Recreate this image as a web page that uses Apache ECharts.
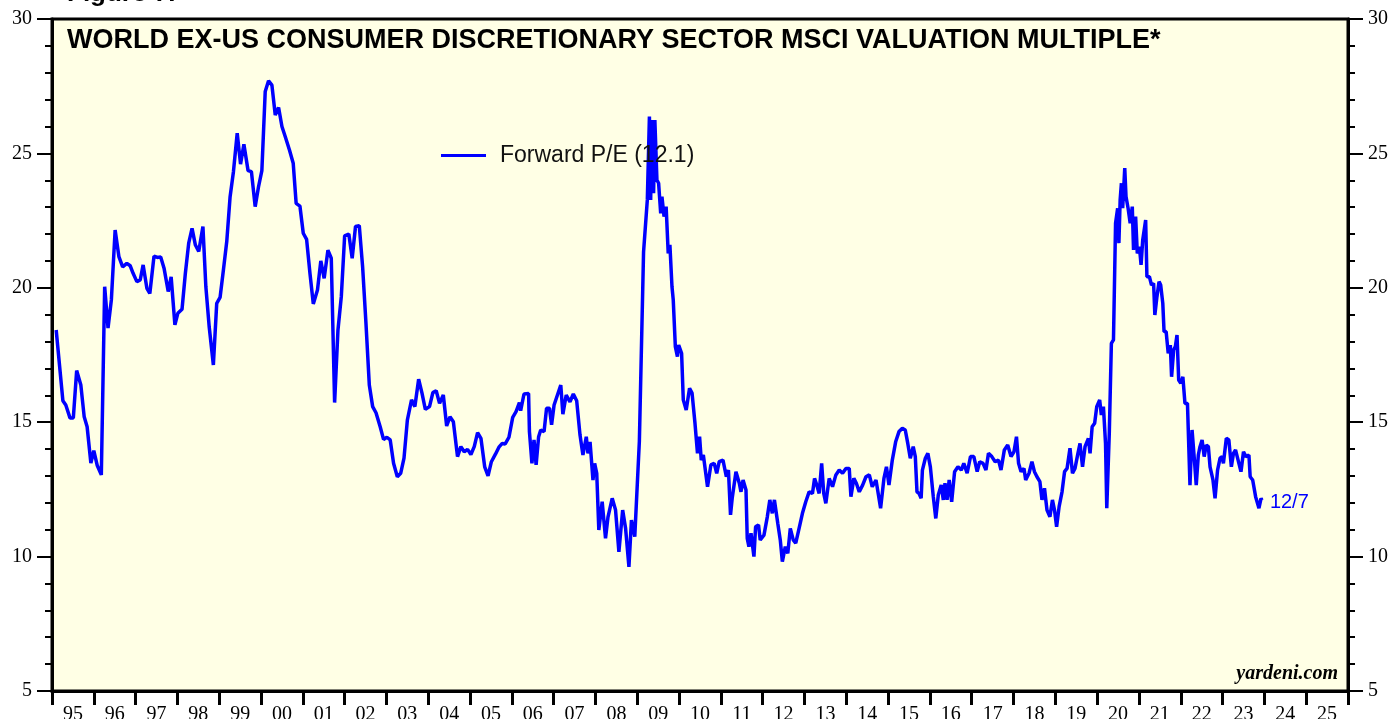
<!DOCTYPE html>
<html>
<head>
<meta charset="utf-8">
<title>World ex-US Consumer Discretionary Forward P/E</title>
<script src="https://cdn.jsdelivr.net/npm/echarts@6/dist/echarts.min.js"></script>
<style>
  html, body { margin: 0; padding: 0; background: #fff; }
  #chart { width: 1395px; height: 719px; }
</style>
</head>
<body>
<div id="chart"></div>
<script>
// decimal years and forward P/E
var dates95 = [1995.10, 1995.26, 1995.33, 1995.43, 1995.51, 1995.59, 1995.69, 1995.77, 1995.84, 1995.93,
  1996.00, 1996.08, 1996.18, 1996.26, 1996.34, 1996.42, 1996.51, 1996.60, 1996.69, 1996.79, 1996.87, 1996.94,
  1997.03, 1997.11, 1997.18, 1997.27, 1997.34, 1997.44, 1997.52, 1997.60, 1997.68, 1997.78, 1997.85, 1997.94,
  1998.01, 1998.11, 1998.19, 1998.27, 1998.35, 1998.43, 1998.51, 1998.61, 1998.68, 1998.76, 1998.86, 1998.94,
  1999.02, 1999.10, 1999.18, 1999.26, 1999.34, 1999.43, 1999.51, 1999.59, 1999.69, 1999.77, 1999.86, 1999.94,
  2000.02, 2000.10, 2000.18, 2000.26, 2000.34, 2000.42, 2000.50, 2000.58, 2000.68, 2000.77, 2000.84, 2000.93,
  2001.01, 2001.09, 2001.17, 2001.25, 2001.35, 2001.43, 2001.51, 2001.60, 2001.68, 2001.76, 2001.84, 2001.92,
  2002.00, 2002.10, 2002.18, 2002.26, 2002.35, 2002.43, 2002.51, 2002.59, 2002.67, 2002.75, 2002.85, 2002.93,
  2003.01, 2003.09, 2003.17, 2003.26, 2003.34, 2003.42, 2003.50, 2003.60, 2003.68, 2003.77, 2003.85, 2003.93,
  2004.03, 2004.11, 2004.19, 2004.27, 2004.36, 2004.44, 2004.52, 2004.60, 2004.70, 2004.78, 2004.86, 2004.94,
  2005.02, 2005.10, 2005.18, 2005.26, 2005.35, 2005.43, 2005.51, 2005.61, 2005.69, 2005.77, 2005.84, 2005.93];
var pe95 = [18.43, 15.80, 15.64, 15.16, 15.16, 16.92, 16.38, 15.20, 14.83, 13.48,
  13.94, 13.40, 13.04, 20.04, 18.50, 19.55, 22.15, 21.16, 20.78, 20.91, 20.82, 20.54,
  20.23, 20.29, 20.85, 19.98, 19.79, 21.18, 21.13, 21.15, 20.73, 19.86, 20.41, 18.62,
  19.05, 19.20, 20.54, 21.66, 22.21, 21.59, 21.35, 22.28, 20.04, 18.55, 17.13, 19.42,
  19.64, 20.66, 21.72, 23.39, 24.32, 25.75, 24.60, 25.34, 24.36, 24.32, 23.02, 23.76,
  24.36, 27.30, 27.70, 27.54, 26.43, 26.71, 26.00, 25.62, 25.13, 24.63, 23.14, 23.04,
  22.03, 21.80, 20.54, 19.40, 19.92, 21.00, 20.35, 21.40, 21.10, 15.73, 18.43, 19.67,
  21.93, 22.00, 21.10, 22.28, 22.31, 20.78, 18.68, 16.38, 15.58, 15.35, 14.83, 14.36,
  14.44, 14.34, 13.47, 12.97, 13.10, 13.66, 15.08, 15.83, 15.58, 16.60, 16.08, 15.48,
  15.58, 16.10, 16.17, 15.70, 16.01, 14.86, 15.20, 15.02, 13.72, 14.09, 13.90, 13.99,
  13.80, 14.09, 14.61, 14.40, 13.34, 13.00, 13.53, 13.82, 14.07, 14.21, 14.19, 14.44];

var dates06 = [2006.02, 2006.10, 2006.18, 2006.21, 2006.29, 2006.40, 2006.42, 2006.48, 2006.53, 2006.58,
  2006.64, 2006.69, 2006.77, 2006.83, 2006.90, 2006.95, 2007.01, 2007.09, 2007.17, 2007.22, 2007.30, 2007.39,
  2007.47, 2007.55, 2007.63, 2007.70, 2007.78, 2007.82, 2007.87, 2007.94, 2007.98, 2008.03, 2008.08, 2008.16,
  2008.24, 2008.30, 2008.40, 2008.48, 2008.56, 2008.65, 2008.72, 2008.80, 2008.86, 2008.94, 2009.05, 2009.15,
  2009.19, 2009.24, 2009.29, 2009.32, 2009.35, 2009.39, 2009.42, 2009.47, 2009.51, 2009.56, 2009.59, 2009.64,
  2009.69, 2009.74, 2009.78, 2009.83, 2009.86, 2009.91, 2009.96, 2009.99, 2010.06, 2010.10, 2010.17, 2010.25,
  2010.31, 2010.38, 2010.44, 2010.49, 2010.53, 2010.58, 2010.68, 2010.76, 2010.84, 2010.90, 2010.96, 2011.05,
  2011.13, 2011.18, 2011.23, 2011.27, 2011.36, 2011.44, 2011.48, 2011.53, 2011.60, 2011.63, 2011.67, 2011.72,
  2011.79, 2011.83, 2011.90, 2011.94, 2012.03, 2012.11, 2012.17, 2012.23, 2012.28, 2012.36, 2012.42, 2012.47,
  2012.54, 2012.60, 2012.66, 2012.73, 2012.79, 2012.87, 2012.95, 2013.03, 2013.11, 2013.19, 2013.24, 2013.28,
  2013.35, 2013.41, 2013.46, 2013.51, 2013.59, 2013.67, 2013.75, 2013.83, 2013.91, 2013.99, 2014.07, 2014.11,
  2014.18, 2014.24, 2014.31, 2014.39, 2014.47, 2014.55, 2014.62, 2014.71, 2014.82, 2014.90, 2014.96];
var pe06 = [15.18, 15.39, 15.73, 15.43, 16.05, 16.07, 14.65, 13.47, 14.34, 13.41,
  14.46, 14.71, 14.65, 15.52, 15.52, 14.90, 15.64, 16.01, 16.38, 15.30, 16.01, 15.76,
  16.05, 15.80, 14.52, 13.78, 14.46, 13.84, 14.27, 12.85, 13.47, 13.10, 10.99, 12.04,
  10.68, 11.48, 12.17, 11.73, 10.18, 11.73, 11.05, 9.62, 11.36, 10.74, 14.30, 21.34,
  21.41, 23.27, 26.37, 23.27, 26.24, 23.52, 26.24, 24.01, 23.89, 22.77, 23.39, 22.65,
  23.02, 21.28, 21.60, 20.04, 19.55, 17.81, 17.44, 17.87, 17.56, 15.83, 15.45, 16.26,
  16.08, 14.96, 13.84, 14.46, 13.59, 13.78, 12.60, 13.41, 13.47, 13.10, 13.53, 13.59,
  12.97, 13.22, 11.55, 12.17, 13.16, 12.73, 12.41, 12.85, 12.48, 10.68, 10.37, 10.87,
  10.00, 11.11, 11.18, 10.62, 10.80, 11.48, 12.11, 11.61, 12.11, 11.24, 10.62, 9.81,
  10.37, 10.12, 11.05, 10.62, 10.50, 11.05, 11.61, 12.04, 12.41, 12.35, 12.91, 12.73,
  12.35, 13.47, 12.35, 11.98, 12.91, 12.60, 13.04, 13.22, 13.10, 13.28, 13.28, 12.23,
  12.91, 12.73, 12.41, 12.66, 12.97, 13.04, 12.60, 12.85, 11.80, 12.91, 13.34];

var dates15 = [2015.02, 2015.10, 2015.18, 2015.26, 2015.34, 2015.41, 2015.47, 2015.53, 2015.60, 2015.65,
  2015.69, 2015.74, 2015.79, 2015.82, 2015.89, 2015.95, 2016.01, 2016.08, 2016.14, 2016.20, 2016.27, 2016.32,
  2016.36, 2016.41, 2016.46, 2016.52, 2016.59, 2016.67, 2016.75, 2016.81, 2016.89, 2016.97, 2017.05, 2017.13,
  2017.19, 2017.27, 2017.34, 2017.40, 2017.48, 2017.56, 2017.64, 2017.70, 2017.78, 2017.86, 2017.94, 2018.01,
  2018.07, 2018.12, 2018.18, 2018.25, 2018.29, 2018.37, 2018.44, 2018.50, 2018.56, 2018.63, 2018.68, 2018.74,
  2018.80, 2018.87, 2018.93, 2018.98, 2019.03, 2019.09, 2019.16, 2019.22, 2019.28, 2019.35, 2019.41, 2019.47,
  2019.54, 2019.59, 2019.65, 2019.71, 2019.79, 2019.83, 2019.88, 2019.94, 2019.99, 2020.06, 2020.10, 2020.15,
  2020.20, 2020.23, 2020.29, 2020.34, 2020.39, 2020.44, 2020.49, 2020.52, 2020.55, 2020.58, 2020.61, 2020.66,
  2020.69, 2020.74, 2020.79, 2020.84, 2020.87, 2020.92, 2020.96, 2021.01, 2021.05, 2021.09, 2021.16, 2021.19,
  2021.25, 2021.30, 2021.35, 2021.38, 2021.43, 2021.48, 2021.52, 2021.57, 2021.60, 2021.65, 2021.70, 2021.75,
  2021.78, 2021.83, 2021.87, 2021.91, 2021.95, 2022.00, 2022.05, 2022.10, 2022.16, 2022.22, 2022.27, 2022.32,
  2022.37, 2022.42, 2022.46, 2022.51, 2022.56, 2022.61, 2022.66, 2022.70, 2022.77, 2022.82, 2022.88, 2022.94,
  2022.99, 2023.02, 2023.09, 2023.15, 2023.21, 2023.26, 2023.31, 2023.39, 2023.44, 2023.50, 2023.56, 2023.63,
  2023.66, 2023.72, 2023.79, 2023.83, 2023.87, 2023.92, 2023.94];
var pe15 = [12.66, 13.59, 14.27, 14.65, 14.77, 14.71, 14.21, 13.66, 14.09, 13.72,
  12.41, 12.35, 12.17, 13.22, 13.66, 13.84, 13.34, 12.23, 11.42, 12.29, 12.66, 12.11,
  12.73, 12.11, 12.85, 12.04, 13.16, 13.34, 13.22, 13.47, 13.10, 13.72, 13.72, 13.16,
  13.53, 13.47, 13.22, 13.84, 13.72, 13.53, 13.59, 13.22, 13.97, 14.15, 13.72, 13.90,
  14.46, 13.47, 13.16, 13.28, 12.85, 13.10, 13.53, 13.16, 12.97, 12.79, 12.11, 12.54,
  11.73, 11.48, 12.11, 11.73, 11.11, 11.86, 12.41, 13.16, 13.28, 14.03, 13.10, 13.28,
  13.84, 14.21, 13.34, 14.09, 14.40, 13.84, 14.83, 14.96, 15.58, 15.83, 15.27, 15.58,
  14.21, 11.80, 14.59, 17.93, 18.06, 22.40, 22.96, 21.66, 23.27, 23.89, 22.96, 24.45,
  23.39, 22.96, 22.40, 23.02, 21.41, 22.65, 21.28, 21.53, 20.85, 21.78, 22.52, 20.41,
  20.41, 20.10, 20.17, 18.99, 19.67, 20.23, 20.10, 19.42, 18.37, 18.37, 17.56, 17.87,
  16.69, 17.69, 17.81, 18.24, 16.57, 16.45, 16.69, 15.70, 15.70, 12.66, 14.71, 13.72,
  12.66, 13.78, 14.09, 14.34, 13.72, 14.15, 14.09, 13.34, 12.85, 12.17, 13.22, 13.66,
  13.72, 13.47, 14.40, 14.34, 13.34, 13.84, 13.97, 13.47, 13.16, 13.90, 13.72, 13.78,
  12.97, 12.85, 12.23, 12.29, 11.80, 12.17, 12.10];

var yearLabels = ["95", "96", "97", "98", "99", "00", "01", "02", "03", "04", "05", "06", "07", "08", "09",
  "10", "11", "12", "13", "14", "15", "16", "17", "18", "19", "20", "21", "22", "23", "24", "25"];

var seriesName = "Forward P/E (12.1)";
var lastLabel = "12/7";

function pairs(xs, ys) {
  var out = [];
  for (var i = 0; i < xs.length; i++) out.push([xs[i], ys[i]]);
  return out;
}
var lineData = pairs(dates95, pe95).concat(pairs(dates06, pe06), pairs(dates15, pe15));

var chart = echarts.init(document.getElementById("chart"));

var serif = "'Liberation Serif', 'Times New Roman', serif";
var sans = "'Liberation Sans', Arial, sans-serif";

function yAxisCfg(pos) {
  return {
    type: "value",
    position: pos,
    min: 5,
    max: 30,
    interval: 5,
    axisLine: { show: true, lineStyle: { color: "#000", width: 3 } },
    axisTick: { show: true, inside: false, length: 15, lineStyle: { color: "#000", width: 2 } },
    minorTick: { show: true, splitNumber: 5, length: 7, lineStyle: { color: "#000", width: 2 } },
    splitLine: { show: false },
    axisLabel: { color: "#000", fontFamily: serif, fontSize: 20, margin: 20 },
  };
}

chart.setOption({
  animation: false,
  backgroundColor: "#fff",
  grid: {
    left: 52,
    right: 47,
    top: 19,
    bottom: 28,
    containLabel: false,
    outerBoundsMode: "none",
    show: true,
    backgroundColor: "#FFFFE5",
    borderColor: "#000",
    borderWidth: 3,
  },
  graphic: [
    {
      type: "text",
      left: 67,
      top: 27,
      style: {
        text: "WORLD EX-US CONSUMER DISCRETIONARY SECTOR MSCI VALUATION MULTIPLE*",
        font: "bold 27px " + sans,
        fill: "#000",
      },
    },
    {
      type: "text",
      left: 67,
      top: -19,
      style: { text: "Figure 7.", font: "bold 26px " + sans, fill: "#000" },
    },
    {
      type: "text",
      right: 57,
      top: 664,
      style: { text: "yardeni.com", font: "italic bold 20px " + serif, fill: "#000" },
    },
  ],
  legend: {
    left: 436,
    top: 139,
    icon: "rect",
    itemWidth: 45,
    itemHeight: 3,
    textStyle: { fontFamily: sans, fontSize: 23, color: "#111", padding: [0, 0, 0, 9] },
    data: [seriesName],
  },
  xAxis: [
    {
      type: "value",
      min: 1995,
      max: 2026,
      interval: 1,
      axisLine: { show: true, onZero: false, lineStyle: { color: "#000", width: 3 } },
      axisTick: { show: true, length: 14, lineStyle: { color: "#000", width: 3 } },
      axisLabel: { show: false },
      splitLine: { show: false },
    },
    {
      type: "category",
      position: "bottom",
      data: yearLabels,
      boundaryGap: true,
      axisLine: { show: false },
      axisTick: { show: false },
      axisLabel: { color: "#000", fontFamily: serif, fontSize: 20, margin: 14, interval: 0 },
    },
  ],
  yAxis: [yAxisCfg("left"), yAxisCfg("right")],
  series: [
    {
      name: seriesName,
      type: "line",
      xAxisIndex: 0,
      yAxisIndex: 0,
      data: lineData,
      showSymbol: false,
      symbol: "none",
      lineStyle: { color: "#0000FF", width: 3.5 },
      itemStyle: { color: "#0000FF" },
      endLabel: {
        show: true,
        formatter: lastLabel,
        color: "#0000FF",
        fontFamily: sans,
        fontSize: 20,
        distance: 8,
        offset: [0, 2],
      },
    },
  ],
});
</script>
</body>
</html>
